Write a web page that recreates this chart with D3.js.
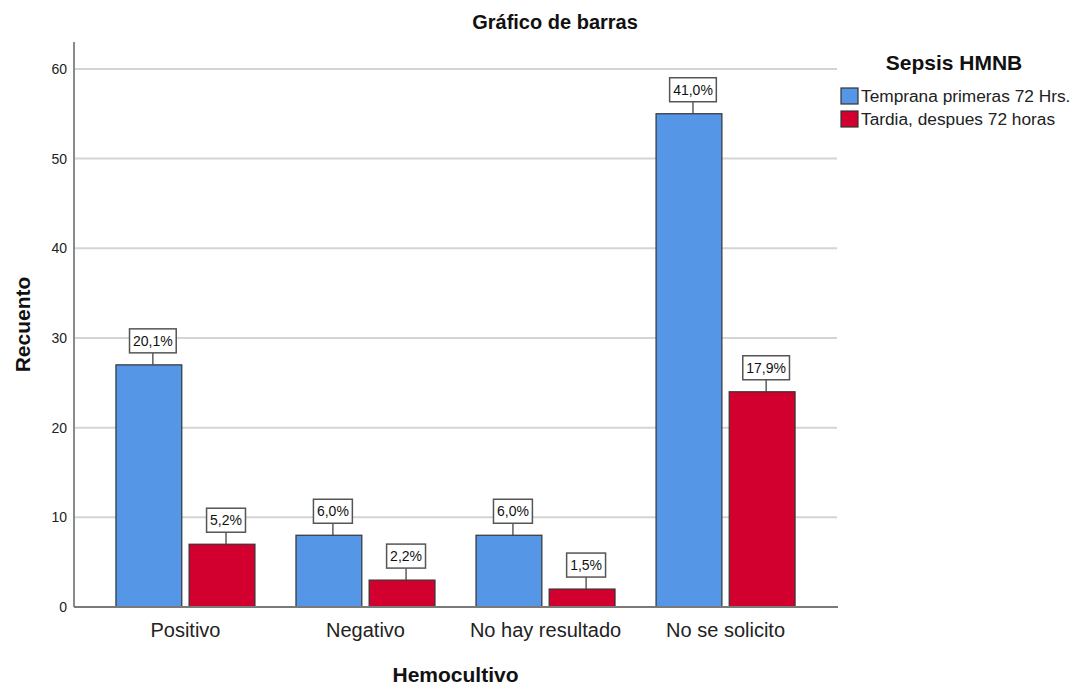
<!DOCTYPE html>
<html>
<head>
<meta charset="utf-8">
<script src="https://cdn.jsdelivr.net/npm/d3@7/dist/d3.min.js"></script>
<style>
  html, body { margin: 0; padding: 0; background: #fff; }
  svg { display: block; font-family: "Liberation Sans", Arial, sans-serif; }
</style>
</head>
<body>
<svg id="chart" width="1072" height="686"></svg>
<script>
// Hemocultivo categories and counts per sepsis group
const categories = ["Positivo", "Negativo", "No hay resultado", "No se solicito"];
const seriesNames = ["Temprana primeras 72 Hrs.", "Tardia, despues 72 horas"];
const tempranaCounts = [27, 8, 8, 55];
const tardiaCounts = [7, 3, 2, 24];
const tempranaPct = ["20,1%", "6,0%", "6,0%", "41,0%"];
const tardiaPct = ["5,2%", "2,2%", "1,5%", "17,9%"];
const yTicks = [0, 10, 20, 30, 40, 50, 60];

const colors = ["#5596e6", "#d2002e"];

const svg = d3.select("#chart");
const plot = { left: 74, right: 837, top: 42, bottom: 607 };

const rows = categories.map((c, i) => ({
  category: c,
  values: [
    { series: 0, value: tempranaCounts[i], label: tempranaPct[i] },
    { series: 1, value: tardiaCounts[i], label: tardiaPct[i] }
  ]
}));

const x = d3.scaleBand()
  .domain(categories)
  .range([plot.left, plot.right])
  .paddingInner(0)
  .paddingOuter(0.119);

const xInner = d3.scaleBand()
  .domain([0, 1])
  .range([x.bandwidth() / 2 - 69.5, x.bandwidth() / 2 + 69.5])
  .paddingInner(0.1);

const y = d3.scaleLinear()
  .domain([0, 63])
  .range([plot.bottom, plot.top]);

// horizontal gridlines
svg.append("g")
  .selectAll("line")
  .data(yTicks.filter(t => t > 0))
  .join("line")
  .attr("x1", plot.left)
  .attr("x2", plot.right)
  .attr("y1", d => y(d))
  .attr("y2", d => y(d))
  .attr("stroke", "#d4d4d4")
  .attr("stroke-width", 2);

// y axis
const yAxis = svg.append("g")
  .attr("transform", `translate(${plot.left},0)`)
  .call(d3.axisLeft(y).tickValues(yTicks).tickSize(0).tickPadding(7));
yAxis.select(".domain").remove();
yAxis.selectAll("text")
  .attr("font-size", 14)
  .attr("fill", "#222")
  .attr("font-family", "'Liberation Sans', Arial, sans-serif");

svg.append("line")
  .attr("x1", plot.left).attr("x2", plot.left)
  .attr("y1", plot.top).attr("y2", plot.bottom)
  .attr("stroke", "#8a8a8a").attr("stroke-width", 2);

// bars
const groups = svg.append("g")
  .selectAll("g")
  .data(rows)
  .join("g")
  .attr("transform", d => `translate(${x(d.category)},0)`);

groups.selectAll("rect")
  .data(d => d.values)
  .join("rect")
  .attr("x", d => xInner(d.series))
  .attr("width", xInner.bandwidth())
  .attr("y", d => y(d.value))
  .attr("height", d => y(0) - y(d.value))
  .attr("fill", d => colors[d.series])
  .attr("stroke", "#333")
  .attr("stroke-width", 1.2);

// x axis baseline
svg.append("line")
  .attr("x1", plot.left).attr("x2", plot.right + 1)
  .attr("y1", plot.bottom).attr("y2", plot.bottom)
  .attr("stroke", "#7a7a7a").attr("stroke-width", 2);

// category labels
const xAxis = svg.append("g")
  .attr("transform", `translate(0,${plot.bottom})`)
  .call(d3.axisBottom(x).tickSize(0).tickPadding(16));
xAxis.select(".domain").remove();
xAxis.selectAll("text")
  .attr("font-size", 20)
  .attr("fill", "#222")
  .attr("font-family", "'Liberation Sans', Arial, sans-serif");

// percentage labels with leader lines
const leader = 12;
const labels = groups.selectAll("g.lbl")
  .data(d => d.values)
  .join("g")
  .attr("class", "lbl")
  .attr("transform", d => `translate(${xInner(d.series) + xInner.bandwidth() / 2 + 4},${y(d.value)})`);

labels.append("line")
  .attr("x1", 0).attr("x2", 0)
  .attr("y1", 0).attr("y2", -leader)
  .attr("stroke", "#444").attr("stroke-width", 1.3);

labels.each(function(d) {
  const g = d3.select(this);
  const t = g.append("text")
    .attr("text-anchor", "middle")
    .attr("font-size", 14)
    .attr("fill", "#111")
    .attr("y", -leader - 7)
    .text(d.label);
  const w = t.node().getComputedTextLength() + 7;
  g.insert("rect", "text")
    .attr("x", -w / 2)
    .attr("y", -leader - 24)
    .attr("width", w)
    .attr("height", 24)
    .attr("fill", "#fff")
    .attr("stroke", "#555")
    .attr("stroke-width", 1.5);
});

// titles
svg.append("text")
  .attr("x", 555).attr("y", 29)
  .attr("text-anchor", "middle")
  .attr("font-size", 20).attr("font-weight", "bold").attr("fill", "#111")
  .text("Gráfico de barras");

svg.append("text")
  .attr("x", (plot.left + plot.right) / 2).attr("y", 682)
  .attr("text-anchor", "middle")
  .attr("font-size", 21).attr("font-weight", "bold").attr("fill", "#111")
  .text("Hemocultivo");

svg.append("text")
  .attr("transform", `translate(30,${(plot.top + plot.bottom) / 2}) rotate(-90)`)
  .attr("text-anchor", "middle")
  .attr("font-size", 21).attr("font-weight", "bold").attr("fill", "#111")
  .text("Recuento");

// legend
const legend = svg.append("g").attr("transform", "translate(841,0)");
legend.append("text")
  .attr("x", 113).attr("y", 70)
  .attr("text-anchor", "middle")
  .attr("font-size", 21).attr("font-weight", "bold").attr("fill", "#111")
  .text("Sepsis HMNB");

const items = legend.selectAll("g.item")
  .data(seriesNames)
  .join("g")
  .attr("class", "item")
  .attr("transform", (d, i) => `translate(0,${88 + i * 23})`);
items.append("rect")
  .attr("width", 17).attr("height", 16)
  .attr("fill", (d, i) => colors[i])
  .attr("stroke", "#333").attr("stroke-width", 1.2);
items.append("text")
  .attr("x", 20).attr("y", 14)
  .attr("font-size", 17.3).attr("fill", "#222")
  .text(d => d);
</script>
</body>
</html>
